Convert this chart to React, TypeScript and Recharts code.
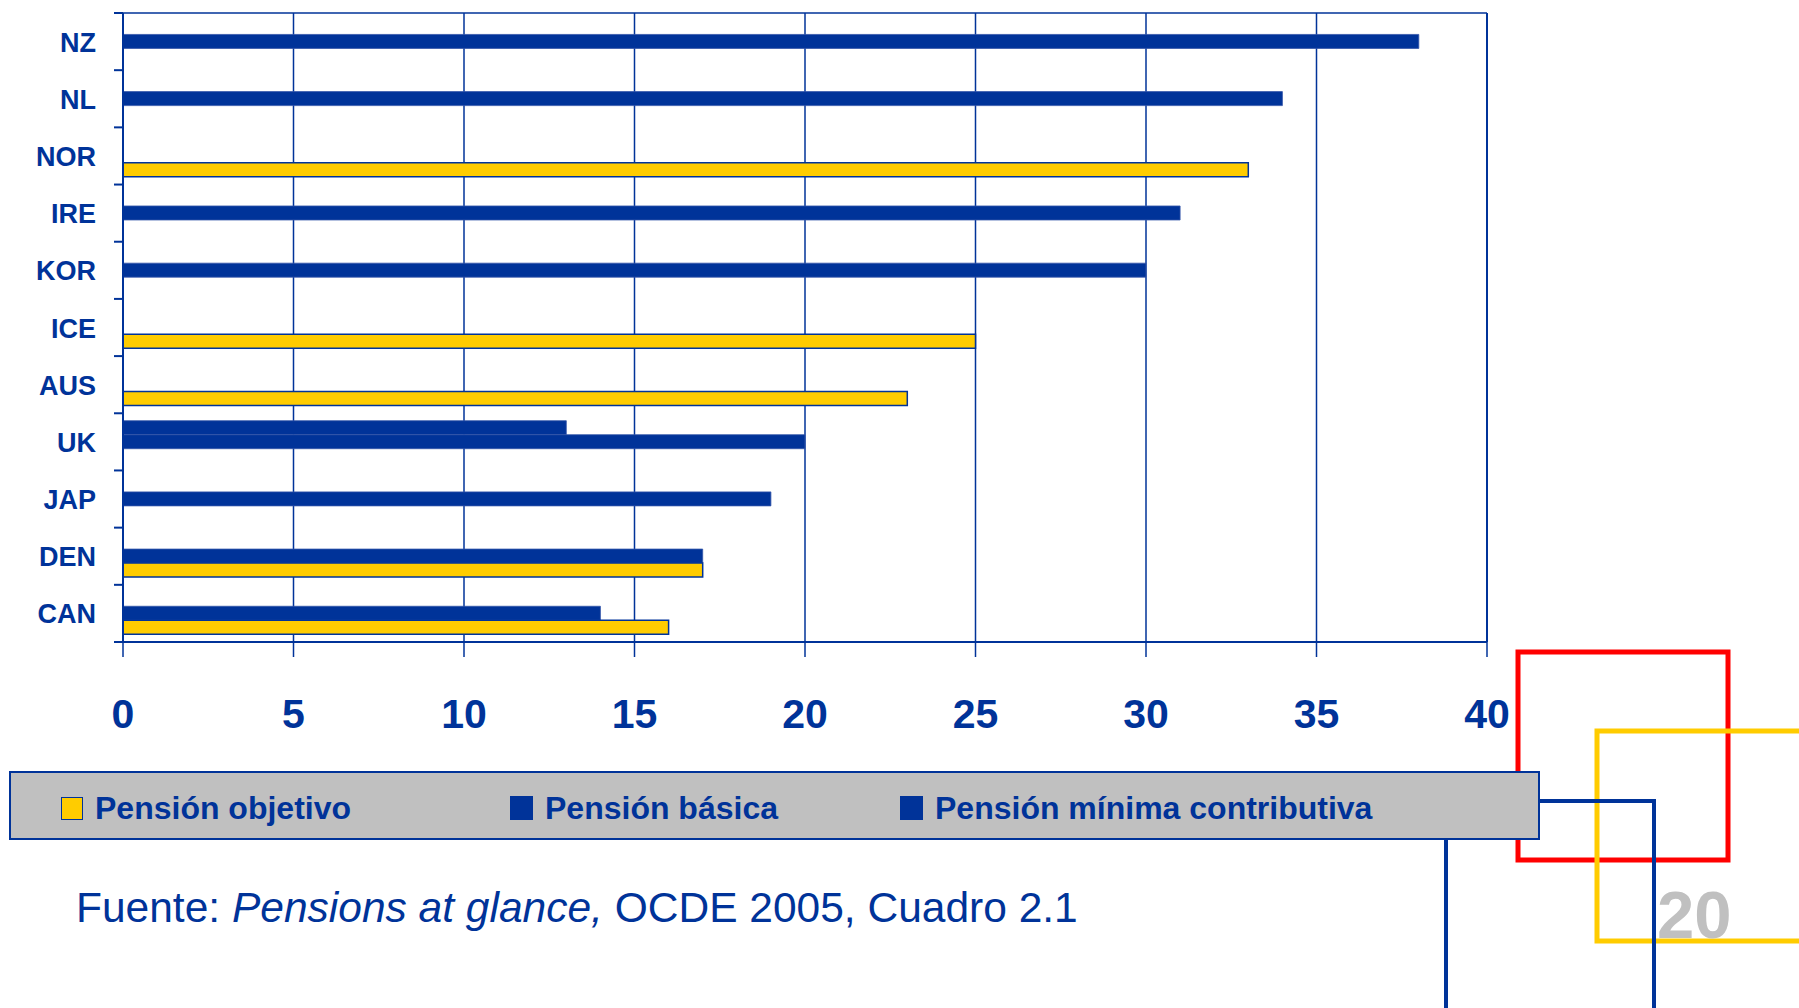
import { BarChart, Bar, XAxis, YAxis, CartesianGrid, ReferenceLine } from 'recharts';

const BLUE = '#003399';
const YELLOW = '#FFCC00';
const FONT = '"Liberation Sans", Arial, sans-serif';

// countries top to bottom
const countries = ['NZ', 'NL', 'NOR', 'IRE', 'KOR', 'ICE', 'AUS', 'UK', 'JAP', 'DEN', 'CAN'];

// values (% of average earnings)
const pensionObjetivo = [null, null, 33, null, null, 25, 23, null, null, 17, 16];
const pensionBasica = [38, 34, null, 31, 30, null, null, 20, 19, 17, 14];
const pensionMinima = [null, null, null, null, null, null, null, 13, null, null, null];

const xTicks = [0, 5, 10, 15, 20, 25, 30, 35, 40];

const seriesNames = ['Pensión objetivo', 'Pensión básica', 'Pensión mínima contributiva'];
const seriesColors = [YELLOW, BLUE, BLUE];

const sourceText = ['Fuente: ', 'Pensions at glance,', ' OCDE 2005, Cuadro 2.1'];

const data = countries.map((c, i) => ({
  country: c,
  objetivo: pensionObjetivo[i],
  basica: pensionBasica[i],
  minima: pensionMinima[i],
}));

// label at band centre, small tick at band boundaries
function CountryTick(props: any) {
  const { x, y, payload, index, visibleTicksCount } = props;
  const half = payload && payload.offset ? payload.offset : 28.6;
  return (
    <g>
      <text x={x - 1} y={y} dy={10} textAnchor="end" fill={BLUE} fontSize={27} fontWeight={700} fontFamily={FONT}>
        {payload.value}
      </text>
      <line x1={x + 17} x2={x + 26} y1={y - half} y2={y - half} stroke={BLUE} strokeWidth={2} />
      {index === visibleTicksCount - 1 && (
        <line x1={x + 17} x2={x + 26} y1={y + half} y2={y + half} stroke={BLUE} strokeWidth={2} />
      )}
    </g>
  );
}

const legendLefts = [61, 510, 900];

export default function App() {
  return (
    <div style={{ position: 'relative', width: 1799, height: 1008, overflow: 'hidden', background: '#fff', fontFamily: FONT }}>
      <style>{'body{margin:0}'}</style>

      {/* decorative squares + source */}
      <svg width={1799} height={1008} style={{ position: 'absolute', left: 0, top: 0 }}>
        <rect x={1518} y={652} width={210} height={208} fill="none" stroke="#FF0000" strokeWidth={5} />
        <rect x={1597} y={731} width={260} height={210} fill="none" stroke={YELLOW} strokeWidth={5} />
        <rect x={1446} y={801} width={208} height={260} fill="none" stroke={BLUE} strokeWidth={4} />
        <text x={1657} y={938} fill="#C0C0C0" fontSize={67} fontWeight={700} fontFamily={FONT}>20</text>
        <text x={76} y={922} fill={BLUE} fontSize={42.5} fontFamily={FONT}>
          <tspan>{sourceText[0]}</tspan>
          <tspan fontStyle="italic">{sourceText[1]}</tspan>
          <tspan>{sourceText[2]}</tspan>
        </text>
      </svg>

      <div style={{ position: 'absolute', left: 0, top: 0 }}>
        <BarChart
          width={1799}
          height={770}
          data={data}
          layout="vertical"
          margin={{ top: 13, right: 312, bottom: 18, left: 8 }}
          barCategoryGap="13%"
          barGap={0}
        >
          <CartesianGrid
            stroke={BLUE}
            strokeWidth={1.5}
            horizontalCoordinatesGenerator={(p: any) => [p.offset.top]}
          />
          <XAxis
            type="number"
            domain={[0, 40]}
            ticks={xTicks}
            interval={0}
            height={110}
            tickSize={15}
            tickMargin={42}
            axisLine={{ stroke: BLUE, strokeWidth: 2 }}
            tickLine={{ stroke: BLUE, strokeWidth: 1.5 }}
            tick={{ fill: BLUE, fontSize: 41, fontWeight: 700, fontFamily: FONT }}
          />
          <YAxis
            type="category"
            dataKey="country"
            width={115}
            tickSize={9}
            tickMargin={17}
            interval={0}
            axisLine={{ stroke: BLUE, strokeWidth: 2 }}
            tickLine={false}
            tick={<CountryTick />}
          />
          <ReferenceLine x={40} stroke={BLUE} strokeWidth={2} />
          <Bar dataKey="minima" name={seriesNames[2]} fill={BLUE} stroke="#3355AA" strokeWidth={0.8} isAnimationActive={false} />
          <Bar dataKey="basica" name={seriesNames[1]} fill={BLUE} stroke="#3355AA" strokeWidth={0.8} isAnimationActive={false} />
          <Bar dataKey="objetivo" name={seriesNames[0]} fill={YELLOW} stroke={BLUE} strokeWidth={1.5} isAnimationActive={false} />
        </BarChart>
      </div>

      {/* legend box */}
      <div
        style={{
          position: 'absolute',
          left: 9,
          top: 771,
          width: 1527,
          height: 65,
          background: '#C0C0C0',
          border: `2px solid ${BLUE}`,
        }}
      >
        {seriesNames.map((name, i) => (
          <div
            key={name}
            style={{ position: 'absolute', left: legendLefts[i] - 11, top: 3, height: 64, display: 'flex', alignItems: 'center' }}
          >
            <span
              style={{
                display: 'inline-block',
                width: i === 0 ? 20 : 23,
                height: i === 0 ? 21 : 24,
                background: seriesColors[i],
                border: i === 0 ? `1.5px solid ${BLUE}` : 'none',
                marginRight: 12,
              }}
            />
            <span style={{ color: BLUE, fontSize: 32, fontWeight: 700, whiteSpace: 'nowrap' }}>{name}</span>
          </div>
        ))}
      </div>
    </div>
  );
}
